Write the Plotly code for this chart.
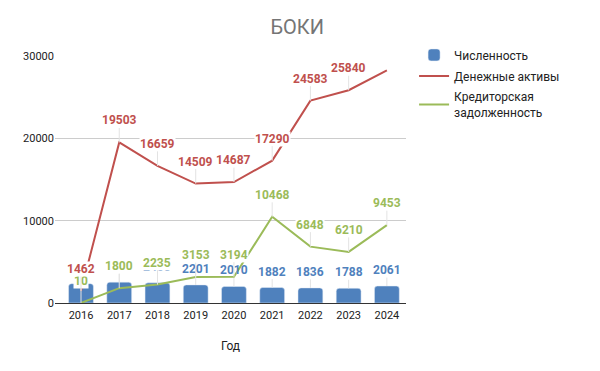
import plotly.graph_objects as go

years = ["2016", "2017", "2018", "2019", "2020", "2021", "2022", "2023", "2024"]
headcount = [2348, 2534, 2450, 2201, 2010, 1882, 1836, 1788, 2061]
cash_assets = [1462, 19503, 16659, 14509, 14687, 17290, 24583, 25840, 28250]
cash_labels = [1462, 19503, 16659, 14509, 14687, 17290, 24583, 25840, None]
payables = [10, 1800, 2235, 3153, 3194, 10468, 6848, 6210, 9453]
y_ticks = [0, 10000, 20000, 30000]

BLUE = "#4f81bd"
RED = "#c0504d"
GREEN = "#9bbb59"
FONT = "Roboto"

fig = go.Figure()
fig.add_trace(go.Bar(x=years, y=headcount, name="Численность", marker_color=BLUE,
                     width=0.65, marker_cornerradius=3, legendgroup="a"))
fig.add_trace(go.Scatter(x=years, y=cash_assets, name="Денежные активы", mode="lines",
                         line=dict(color=RED, width=2), legendgroup="b"))
fig.add_trace(go.Scatter(x=years, y=payables, name="Кредиторская<br>задолженность",
                         mode="lines", line=dict(color=GREEN, width=2), legendgroup="c"))

anns = []
def add_labels(vals, color, ay, bg):
    for i, v in enumerate(vals):
        if v is None:
            continue
        anns.append(dict(x=i, y=v, xref="x", yref="y", text=str(v), showarrow=True,
                         arrowhead=0, arrowwidth=1, arrowcolor="#e3e3e3", ax=0, ay=ay,
                         font=dict(family=FONT, size=12, color=color, weight="bold"),
                         bgcolor=bg, borderpad=0))

add_labels(headcount, BLUE, -16, "rgba(0,0,0,0)")
add_labels(payables, GREEN, -22, "white")
add_labels(cash_labels, RED, -22, "white")

fig.update_layout(
    width=600, height=371,
    paper_bgcolor="white", plot_bgcolor="white",
    margin=dict(l=47, r=202, t=48, b=76),
    title=dict(text="БОКИ", x=0.482, xref="container", xanchor="center", y=0.95,
               yanchor="middle", font=dict(family=FONT, size=20, color="#757575")),
    font=dict(family=FONT, size=11, color="#222"),
    showlegend=True,
    legend=dict(x=1.023, y=1.063, xanchor="left", yanchor="top",
                font=dict(family=FONT, size=12, color="#222"),
                bgcolor="rgba(0,0,0,0)", tracegroupgap=2, itemwidth=30),
    xaxis=dict(type="category", range=[-0.68, 8.5],
               title=dict(text="Год", font=dict(family=FONT, size=12, color="#222"), standoff=20),
               showgrid=False, showline=True, linecolor="#333", linewidth=1, ticks="",
               ticklabelstandoff=2,
               tickfont=dict(family=FONT, size=11, color="#222")),
    yaxis=dict(range=[0, 30000], tickvals=y_ticks, ticktext=[str(t) for t in y_ticks],
               showgrid=True, gridcolor="#cccccc", zeroline=False, showline=False, ticks="",
               tickfont=dict(family=FONT, size=11, color="#222")),
    annotations=anns,
)

fig.write_html("out.html")
